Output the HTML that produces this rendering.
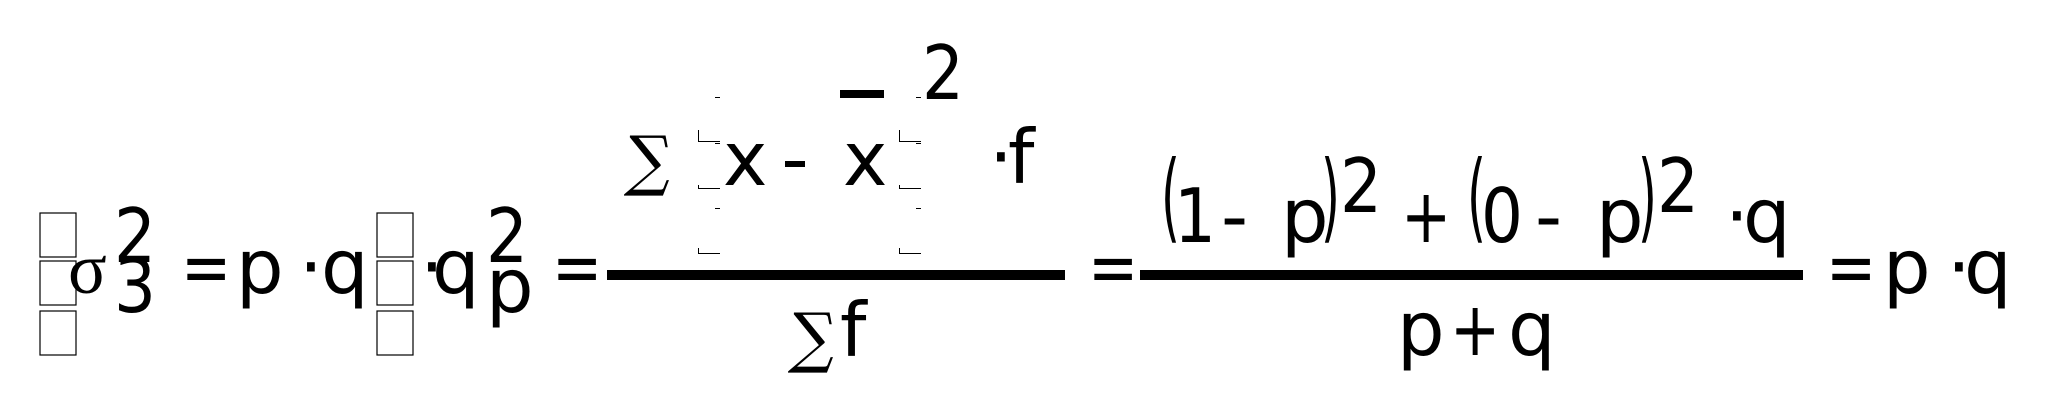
<!DOCTYPE html>
<html><head><meta charset="utf-8"><style>
html,body{margin:0;padding:0;background:#fff;}
svg{display:block}
text{font-family:"DejaVu Sans","Liberation Sans",sans-serif;font-size:75px;fill:#000}
.s{font-family:"DejaVu Serif","Liberation Serif",serif}
.ls{font-family:"Liberation Serif",serif}
.n{transform-box:fill-box;transform-origin:left center;transform:scaleX(0.8)}
.d{transform-box:fill-box;transform-origin:left center;transform:scaleX(0.88)}
.g{transform-box:fill-box;transform-origin:left center;transform:scaleX(0.95) skewX(-6deg)}
.p{transform-box:fill-box;transform-origin:left center;transform:scaleX(0.5)}
</style></head><body>
<svg width="2048" height="407" viewBox="0 0 2048 407" xmlns="http://www.w3.org/2000/svg">
<g fill="none" stroke="#000" stroke-width="1.2">
<rect x="40" y="213" width="36" height="44"/>
<rect x="40" y="261" width="36" height="44"/>
<rect x="40" y="311" width="36" height="44"/>
<rect x="377" y="213" width="36" height="44"/>
<rect x="377" y="261" width="36" height="44"/>
<rect x="377" y="311" width="36" height="44"/>
</g>
<text class="ls" x="68" y="293" style="font-size:72px">σ</text>
<text class="d" x="114" y="262">2</text>
<text class="d" x="114" y="312">3</text>
<text class="n" x="181" y="293">=</text>
<text x="236" y="293">p</text>
<text x="299" y="293">·</text>
<text x="321" y="293">q</text>
<text x="420" y="293">·</text>
<text x="432" y="293">q</text>
<text class="d" x="486" y="262">2</text>
<text x="486" y="312">p</text>
<text class="n" x="552" y="293">=</text>
<rect x="607" y="270" width="458" height="10"/>
<text class="s g" x="627" y="183" style="font-size:66px">∑</text>
<text x="723" y="185">x</text>
<rect x="785" y="161" width="20" height="6"/>
<text x="843" y="185">x</text>
<rect x="840" y="90" width="44" height="8"/>
<text class="d" x="922" y="99">2</text>
<text x="989" y="183">·</text>
<text x="1008" y="183">f</text>
<g fill="none" stroke="#000" stroke-width="1">
<path d="M698.5 130V141.5H720 M698.5 185V188.5H720 M698.5 248V253.5H720 M715 97.5H720 M715 143.5H720 M715 208.5H720"/>
<path d="M899.5 130V141.5H921 M899.5 185V188.5H921 M899.5 248V253.5H921 M916 97.5H921 M916 143.5H921 M916 208.5H921"/>
</g>
<text class="s g" x="791" y="360" style="font-size:66px">∑</text>
<text x="840" y="356">f</text>
<text class="n" x="1088" y="293">=</text>
<rect x="1140" y="270" width="663" height="10"/>
<text class="p" x="1161" y="230" style="font-size:97px">(</text>
<text class="d" x="1174" y="242">1</text>
<text x="1221" y="242">-</text>
<text x="1281" y="242">p</text>
<text class="p" x="1321" y="230" style="font-size:97px">)</text>
<text class="d" x="1340" y="212">2</text>
<text class="n" x="1401" y="242">+</text>
<text class="p" x="1467" y="230" style="font-size:97px">(</text>
<text class="d" x="1481" y="242">0</text>
<text x="1535" y="242">-</text>
<text x="1596" y="242">p</text>
<text class="p" x="1638" y="230" style="font-size:97px">)</text>
<text class="d" x="1657" y="212">2</text>
<text x="1725" y="242">·</text>
<text x="1743" y="242">q</text>
<text x="1397" y="355">p</text>
<text class="n" x="1450" y="355">+</text>
<text x="1508" y="355">q</text>
<text class="n" x="1826" y="293">=</text>
<text x="1883" y="293">p</text>
<text x="1947" y="293">·</text>
<text x="1964" y="293">q</text>
</svg>
</body></html>
